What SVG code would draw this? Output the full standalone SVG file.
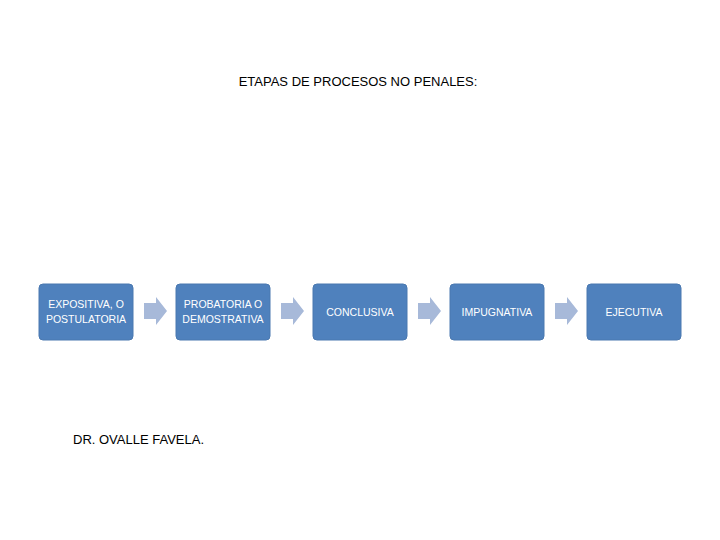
<svg xmlns="http://www.w3.org/2000/svg" width="720" height="540" viewBox="0 0 720 540">
<style>
.b{fill:#4f81bd;stroke:#4a78b0;stroke-width:1}
.t{font-family:"Liberation Sans",Arial,sans-serif;font-size:10.5px;fill:#fff;text-anchor:middle}
.a{fill:#a7b9d9}
.h{font-family:"Liberation Sans",Arial,sans-serif;font-size:13px;fill:#000}
</style>
<rect width="720" height="540" fill="#fff"/>
<text class="h" x="358" y="86" text-anchor="middle">ETAPAS DE PROCESOS NO PENALES:</text>
<g id="n1"><rect class="b" x="39" y="284" width="94" height="56" rx="4"/><text class="t" x="86" y="308">EXPOSITIVA, O</text><text class="t" x="86" y="323">POSTULATORIA</text></g>
<g id="n2"><rect class="b" x="176" y="284" width="94" height="56" rx="4"/><text class="t" x="223" y="308">PROBATORIA O</text><text class="t" x="223" y="323">DEMOSTRATIVA</text></g>
<g id="n3"><rect class="b" x="313" y="284" width="94" height="56" rx="4"/><text class="t" x="360" y="316">CONCLUSIVA</text></g>
<g id="n4"><rect class="b" x="450" y="284" width="94" height="56" rx="4"/><text class="t" x="497" y="316">IMPUGNATIVA</text></g>
<g id="n5"><rect class="b" x="587" y="284" width="94" height="56" rx="4"/><text class="t" x="634" y="316">EJECUTIVA</text></g>
<g id="connectors">
<polygon class="a" points="144,303 156,303 156,297 167,311 156,325 156,319 144,319"/>
<polygon class="a" points="281,303 293,303 293,297 304,311 293,325 293,319 281,319"/>
<polygon class="a" points="418,303 430,303 430,297 441,311 430,325 430,319 418,319"/>
<polygon class="a" points="555,303 567,303 567,297 578,311 567,325 567,319 555,319"/>
</g>
<text class="h" x="73" y="444" font-size="14">DR. OVALLE FAVELA.</text>
</svg>
